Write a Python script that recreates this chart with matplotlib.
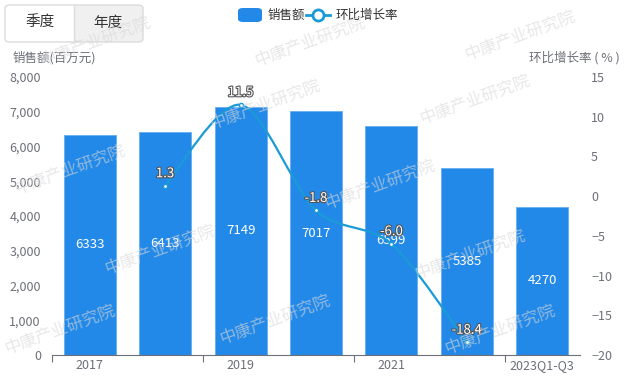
import matplotlib.pyplot as plt
import matplotlib.patheffects as pe
from matplotlib.patches import FancyBboxPatch
from matplotlib.path import Path
from matplotlib.patches import PathPatch

plt.rcParams['font.family'] = ['Noto Sans CJK SC', 'DejaVu Sans']

years = ["2017", "2018", "2019", "2020", "2021", "2022", "2023Q1-Q3"]
sales = [6333, 6413, 7149, 7017, 6599, 5385, 4270]
growth = [None, 1.3, 11.5, -1.8, -6.0, -18.4, None]
tick_labels = ["2017", "2019", "2021", "2023Q1-Q3"]

bar_color = '#2389e8'
line_color = '#1a9bd7'
gray = '#6e7079'

fig = plt.figure(figsize=(6.28, 3.81), dpi=100)
ax = fig.add_axes([52 / 628, 26 / 381, 528 / 628, 278 / 381])
ax2 = ax.twinx()

x = list(range(len(years)))
ax.bar(x, sales, width=0.69, color=bar_color, edgecolor='#6cb2f0', linewidth=0.7, zorder=2)
for xi, v in zip(x, sales):
    ax.text(xi, v / 2, str(v), ha='center', va='center', color='white', fontsize=9.5, zorder=4)

ax.set_xlim(-0.5, 6.5)
ax.set_ylim(0, 8000)
ax.set_yticks(range(0, 8001, 1000))
ax.set_yticklabels([f"{v:,}" for v in range(0, 8001, 1000)])
ax.set_xticks([-0.5, 1.5, 3.5, 5.5])
ax.set_xticklabels([])
ax.set_xticks([0, 2, 4, 6], minor=True)
ax.set_xticklabels(tick_labels, minor=True)
ax.tick_params(axis='x', which='major', length=5, color=gray)
ax.tick_params(axis='x', which='minor', length=0, colors=gray, labelsize=9, pad=3)
ax.tick_params(axis='y', length=0, colors=gray, labelsize=9, pad=8)
for s in ['top', 'left', 'right']:
    ax.spines[s].set_visible(False)
ax.spines['bottom'].set_color(gray)

ax2.set_ylim(-20, 15)
ax2.set_yticks(range(-20, 16, 5))
ax2.tick_params(axis='y', length=0, colors=gray, labelsize=9, pad=8)
for s in ['top', 'left', 'right', 'bottom']:
    ax2.spines[s].set_visible(False)

# smooth growth line (cubic bezier through the data points)
gx = [xi for xi, g in zip(x, growth) if g is not None]
gy = [g for g in growth if g is not None]
verts = [(gx[0], gy[0])]
codes = [Path.MOVETO]
t = 0.3
for i in range(len(gx) - 1):
    p0 = (gx[i - 1], gy[i - 1]) if i > 0 else (gx[i], gy[i])
    p1 = (gx[i], gy[i])
    p2 = (gx[i + 1], gy[i + 1])
    p3 = (gx[i + 2], gy[i + 2]) if i + 2 < len(gx) else p2
    c1 = (p1[0] + (p2[0] - p0[0]) * t / 2, p1[1] + (p2[1] - p0[1]) * t / 2)
    c2 = (p2[0] - (p3[0] - p1[0]) * t / 2, p2[1] - (p3[1] - p1[1]) * t / 2)
    verts += [c1, c2, p2]
    codes += [Path.CURVE4] * 3
ax2.add_patch(PathPatch(Path(verts, codes), facecolor='none', edgecolor=line_color, lw=1.6, zorder=5))
ax2.scatter(gx, gy, s=9, facecolor='white', edgecolor=line_color, linewidth=1, zorder=6)
for xi, g in zip(gx, gy):
    ax2.annotate(f"{g:.1f}", (xi, g), xytext=(0, 4), textcoords='offset points', ha='center', va='bottom',
                 color='white', fontsize=9.5, zorder=7,
                 path_effects=[pe.withStroke(linewidth=1.6, foreground='#555555')])

# axis titles
fig.text(13 / 628, 1 - 58 / 381, "销售额(百万元)", color=gray, fontsize=9, va='center', ha='left')
fig.text(620 / 628, 1 - 58 / 381, "环比增长率 ( % )", color=gray, fontsize=9, va='center', ha='right')

# legend
fig.patches.append(FancyBboxPatch((238 / 628, 1 - 22 / 381), 24 / 628, 14 / 381,
                                  boxstyle='round,pad=0,rounding_size=0.008', transform=fig.transFigure,
                                  facecolor=bar_color, edgecolor='none'))
fig.text(268 / 628, 1 - 15 / 381, "销售额", color='#333333', fontsize=9, va='center')
fig.add_artist(plt.Line2D([306 / 628, 330 / 628], [1 - 15 / 381] * 2, color=line_color, lw=2,
                          transform=fig.transFigure))
fig.add_artist(plt.Line2D([318 / 628], [1 - 15 / 381], marker='o', markersize=8, markerfacecolor='white',
                          markeredgecolor=line_color, markeredgewidth=2, transform=fig.transFigure))
fig.text(336 / 628, 1 - 15 / 381, "环比增长率", color='#333333', fontsize=9, va='center')

# toggle buttons
fig.patches.append(FancyBboxPatch((74 / 628, 1 - 42 / 381), 69 / 628, 37 / 381,
                                  boxstyle='round,pad=0,rounding_size=0.008', transform=fig.transFigure,
                                  facecolor='#f0f0f0', edgecolor='none'))
fig.patches.append(FancyBboxPatch((5 / 628, 1 - 42 / 381), 138 / 628, 37 / 381,
                                  boxstyle='round,pad=0,rounding_size=0.008', transform=fig.transFigure,
                                  facecolor='none', edgecolor='#dcdcdc', lw=1))
fig.add_artist(plt.Line2D([74 / 628] * 2, [1 - 42 / 381, 1 - 5 / 381], color='#dcdcdc', lw=1,
                          transform=fig.transFigure))
fig.text(40 / 628, 1 - 23 / 381, "季度", color='#333333', fontsize=10.5, ha='center', va='center')
fig.text(108 / 628, 1 - 23 / 381, "年度", color='#333333', fontsize=10.5, ha='center', va='center')

# watermark (kept inside the canvas)
marks = [(95, 42), (310, 42), (520, 36),
         (265, 105), (475, 100),
         (70, 170), (380, 185),
         (160, 250), (470, 255),
         (60, 330), (275, 320), (500, 330)]
for mx, my in marks:
    fig.text(mx / 628, 1 - my / 381, "中康产业研究院", color='#d8d8d8', alpha=0.6, fontsize=12,
             fontweight='light', rotation=20, ha='center', va='center', zorder=10)

fig.savefig("out.png", dpi=100)
